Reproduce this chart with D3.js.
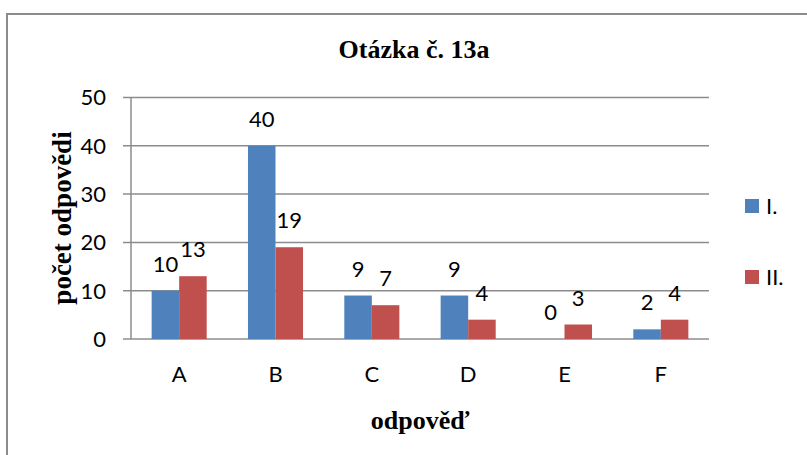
<!DOCTYPE html>
<html>
<head>
<meta charset="utf-8">
<script src="https://cdn.jsdelivr.net/npm/d3@7"></script>
<style>
  body { margin: 0; background: #fff; }
  .tick-label { font-family: Lato, "Liberation Sans", Arial, sans-serif; font-size: 22px; fill: #000; }
  .serif-b { font-family: "Liberation Serif", "Times New Roman", serif; font-weight: bold; fill: #000; }
</style>
</head>
<body>
<div id="chart"></div>
<script>

// chart values
var categories = ["A", "B", "C", "D", "E", "F"];
var seriesNames = ["I.", "II."];
var valuesI  = [10, 40, 9, 9, 0, 2];
var valuesII = [13, 19, 7, 4, 3, 4];
var yTicks = [0, 10, 20, 30, 40, 50];
var colors = ["#4F81BD", "#C0504D"];

var width = 807, height = 455;

var svg = d3.select("#chart").append("svg")
    .attr("width", width).attr("height", height);

// outer chart border (runs off the right / bottom of the picture)
svg.append("rect")
   .attr("x", 7).attr("y", 14)
   .attr("width", 820).attr("height", 460)
   .attr("fill", "none")
   .attr("stroke", "#8c8c8c")
   .attr("stroke-width", 2);

var plot = { left: 131, right: 709, top: 97.5, bottom: 339 };

var y = d3.scaleLinear().domain([0, 50]).range([plot.bottom, plot.top]);

var x0 = d3.scaleBand().domain(categories).range([plot.left, plot.right]);
var x1 = d3.scaleBand().domain(seriesNames).range([0, x0.bandwidth()])
           .paddingInner(0).paddingOuter(0.75);

// gridlines
svg.append("g").selectAll("line")
   .data(yTicks)
   .enter().append("line")
   .attr("x1", plot.left - 8).attr("x2", plot.right)
   .attr("y1", function(d) { return y(d); })
   .attr("y2", function(d) { return y(d); })
   .attr("stroke", "#8c8c8c")
   .attr("stroke-width", 1.5);

// y axis line
svg.append("line")
   .attr("x1", plot.left).attr("x2", plot.left)
   .attr("y1", plot.top).attr("y2", plot.bottom)
   .attr("stroke", "#8c8c8c").attr("stroke-width", 1.5);

// y tick labels
svg.append("g").selectAll("text")
   .data(yTicks)
   .enter().append("text")
   .attr("class", "tick-label")
   .attr("x", plot.left - 25)
   .attr("y", function(d) { return y(d); })
   .attr("dy", "0.36em")
   .attr("text-anchor", "end")
   .text(function(d) { return d; });

// category labels
svg.append("g").selectAll("text")
   .data(categories)
   .enter().append("text")
   .attr("class", "tick-label")
   .attr("x", function(d) { return x0(d) + x0.bandwidth() / 2; })
   .attr("y", 382)
   .attr("text-anchor", "middle")
   .text(function(d) { return d; });

// bars
var rows = categories.map(function(c, i) {
  return { cat: c, vals: [
    { s: seriesNames[0], v: valuesI[i], c: colors[0] },
    { s: seriesNames[1], v: valuesII[i], c: colors[1] } ] };
});

var groups = svg.append("g").selectAll("g")
   .data(rows)
   .enter().append("g")
   .attr("transform", function(d) { return "translate(" + x0(d.cat) + ",0)"; });

groups.selectAll("rect")
   .data(function(d) { return d.vals; })
   .enter().append("rect")
   .attr("x", function(d) { return x1(d.s); })
   .attr("width", x1.bandwidth())
   .attr("y", function(d) { return y(d.v); })
   .attr("height", function(d) { return y(0) - y(d.v); })
   .attr("fill", function(d) { return d.c; });

// data labels
groups.selectAll("text")
   .data(function(d) { return d.vals; })
   .enter().append("text")
   .attr("class", "tick-label")
   .attr("x", function(d) { return x1(d.s) + x1.bandwidth() / 2; })
   .attr("y", function(d) { return y(d.v) - 19; })
   .attr("text-anchor", "middle")
   .text(function(d) { return d.v; });

// title
svg.append("text")
   .attr("class", "serif-b")
   .attr("x", 414).attr("y", 58)
   .attr("text-anchor", "middle")
   .style("font-size", "26px")
   .text("Otázka č. 13a");

// axis titles
svg.append("text")
   .attr("class", "serif-b")
   .attr("transform", "translate(71,218) rotate(-90)")
   .attr("text-anchor", "middle")
   .style("font-size", "27px")
   .text("počet odpovědi");

svg.append("text")
   .attr("class", "serif-b")
   .attr("x", 420).attr("y", 429)
   .attr("text-anchor", "middle")
   .style("font-size", "26px")
   .text("odpověď");

// legend
var legend = svg.append("g").selectAll("g")
   .data(seriesNames)
   .enter().append("g")
   .attr("transform", function(d, i) { return "translate(745," + (206 + i * 71) + ")"; });

legend.append("rect")
   .attr("x", 0).attr("y", -7)
   .attr("width", 14).attr("height", 14)
   .attr("fill", function(d, i) { return colors[i]; });

legend.append("text")
   .attr("class", "tick-label")
   .attr("x", 21).attr("y", 0)
   .attr("dy", "0.36em")
   .text(function(d) { return d; });

</script>
</body>
</html>
